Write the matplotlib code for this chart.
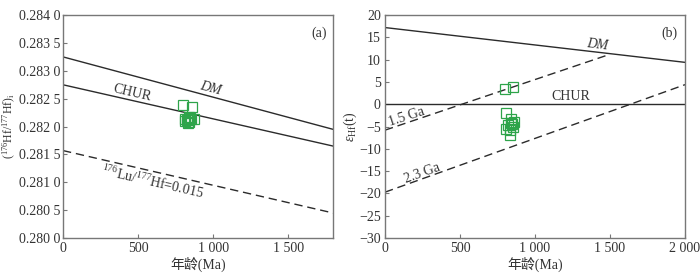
import numpy as np
import matplotlib
matplotlib.use('Agg')
import matplotlib.pyplot as plt

plt.rcParams['font.family'] = ['Liberation Serif', 'Noto Sans CJK SC']
plt.rcParams['mathtext.fontset'] = 'custom'
plt.rcParams['mathtext.rm'] = 'Liberation Serif'
plt.rcParams['mathtext.it'] = 'Liberation Serif:italic'

# panel (a): 176Hf/177Hf initial vs age
a_age = [800, 858, 813, 840, 873, 825, 856, 810, 835, 838, 845, 830]
a_hf = [0.28238, 0.28236, 0.28213, 0.28218, 0.28213, 0.28211, 0.28214,
        0.28210, 0.28207, 0.28209, 0.28215, 0.28212]

# panel (b): epsilon Hf(t) vs age
b_age = [800, 856, 805, 838, 860, 822, 856, 807, 833, 833, 838, 845]
b_eps = [3.4, 3.8, -2.0, -3.3, -3.9, -4.7, -5.0, -5.6, -5.8, -6.9, -4.2, -4.5]

# reference lines (age, value) end points
a_dm = ([0, 1800], [0.28325, 0.28195])
a_chur = ([0, 1800], [0.28275, 0.28165])
a_lu = ([0, 1800], [0.28157, 0.28045])
b_dm = ([0, 2000], [17.2, 9.4])
b_chur = ([0, 2000], [0, 0])
b_15 = ([0, 1490], [-5.8, 11.1])
b_23 = ([0, 2000], [-19.7, 4.4])

line_c = '#2b2b2b'
spine_c = '#777777'
text_c = '#333333'
green = '#2ea44a'
dash = (0, (6, 3.5))
fs = 10

fig = plt.figure(figsize=(7, 2.74), dpi=100)
ax1 = fig.add_axes([0.09, 0.131, 0.386, 0.814])
ax2 = fig.add_axes([0.55, 0.131, 0.4286, 0.814])

for ax in (ax1, ax2):
    for s in ax.spines.values():
        s.set_color(spine_c)
        s.set_linewidth(1.0)
    ax.tick_params(direction='in', length=3, width=0.8, color=spine_c,
                   labelsize=fs, labelcolor=text_c, pad=3)
    ax.set_xlabel('年龄(Ma)', fontsize=fs, color=text_c, labelpad=1)
ax1.tick_params(axis='y', pad=2)

# (a)
ax1.plot(*a_dm, color=line_c, lw=1)
ax1.plot(*a_chur, color=line_c, lw=1)
ax1.plot(*a_lu, color=line_c, lw=1, linestyle=dash)
ax1.plot(a_age, a_hf, linestyle='none', marker='s', markersize=6.5,
         markerfacecolor='none', markeredgecolor=green, markeredgewidth=0.9)
ax1.set_xlim(0, 1800)
ax1.set_ylim(0.2800, 0.2840)
ax1.set_xticks([0, 500, 1000, 1500])
ax1.set_xticklabels(['0', '500', '1 000', '1 500'])
yt = np.arange(0.2800, 0.28401, 0.0005)
ax1.set_yticks(yt)
ax1.set_yticklabels(['%.3f %d' % (v - (round(v * 1e4) % 10) * 1e-4, round(v * 1e4) % 10)
                     for v in yt])
ax1.set_ylabel(r'$(^{176}\mathrm{Hf}/^{177}\mathrm{Hf})_{\mathrm{i}}$',
               fontsize=8.5, color=text_c)
ax1.yaxis.set_label_coords(-0.165, 0.5)
ax1.text(980, 0.28269, 'DM', style='italic', fontsize=fs, color=text_c,
         rotation=-15, ha='center', va='center')
ax1.text(460, 0.28260, 'CHUR', fontsize=fs, color=text_c,
         rotation=-13, ha='center', va='center')
ax1.text(593, 0.28100, r'$^{176}\mathrm{Lu}/^{177}\mathrm{Hf}$=0.015', fontsize=fs,
         color=text_c, rotation=-13, ha='center', va='center')
ax1.text(0.975, 0.95, '(a)', transform=ax1.transAxes, fontsize=fs,
         color=text_c, ha='right', va='top')

# (b)
ax2.plot(*b_dm, color=line_c, lw=1)
ax2.plot(*b_chur, color=line_c, lw=1)
ax2.plot(*b_15, color=line_c, lw=1, linestyle=dash)
ax2.plot(*b_23, color=line_c, lw=1, linestyle=dash)
ax2.plot(b_age, b_eps, linestyle='none', marker='s', markersize=6.5,
         markerfacecolor='none', markeredgecolor=green, markeredgewidth=0.9)
ax2.set_xlim(0, 2000)
ax2.set_ylim(-30, 20)
ax2.set_xticks([0, 500, 1000, 1500, 2000])
ax2.set_xticklabels(['0', '500', '1 000', '1 500', '2 000'])
ax2.set_yticks(np.arange(-30, 21, 5))
ax2.set_ylabel(r'$\varepsilon_{\mathrm{Hf}}$(t)', fontsize=fs, color=text_c, labelpad=0)
ax2.text(1413, 13.3, 'DM', style='italic', fontsize=fs, color=text_c,
         rotation=-7, ha='center', va='center')
ax2.text(1238, 1.8, 'CHUR', fontsize=fs, color=text_c, ha='center', va='center')
ax2.text(144, -2.8, '1.5 Ga', fontsize=fs, color=text_c,
         rotation=18, ha='center', va='center')
ax2.text(245, -15.5, '2.3 Ga', fontsize=fs, color=text_c,
         rotation=20, ha='center', va='center')
ax2.text(0.975, 0.95, '(b)', transform=ax2.transAxes, fontsize=fs,
         color=text_c, ha='right', va='top')

fig.savefig('out.png', dpi=100)
